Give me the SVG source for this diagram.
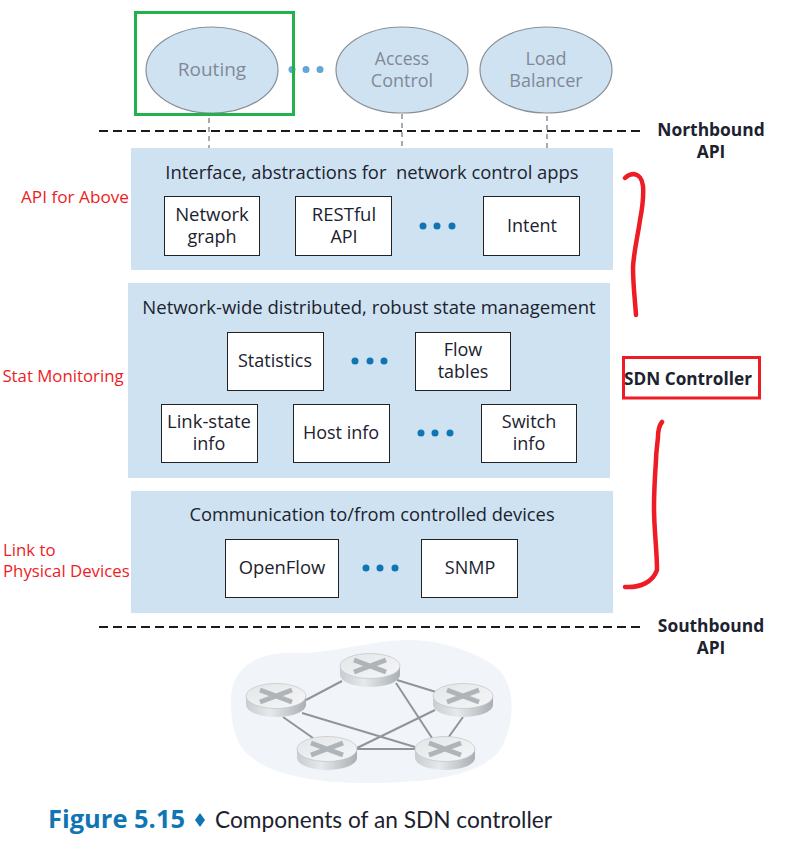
<svg xmlns="http://www.w3.org/2000/svg" width="800" height="850" viewBox="0 0 800 850">
<style>
text{font-family:"Open Sans","Noto Sans","Liberation Sans",sans-serif;fill:#1c2230;font-size:18px;text-anchor:middle}
.panel{fill:#cfe2f1}
.box{fill:#fff;stroke:#222;stroke-width:1}
.app{fill:#cfe2f1;stroke:#8a8f96;stroke-width:1.2}
.apptxt{fill:#7f8a96}
.red{fill:#ee1c25;font-size:16.800px}
.sw{fill:none;stroke:#ee1c25;stroke-width:4.500;stroke-linecap:round;stroke-linejoin:round}
.dash{stroke:#1a1a1a;stroke-width:2;stroke-dasharray:9 5;fill:none}
.vd{stroke:#8a8f96;stroke-width:1.500;stroke-dasharray:5 4;fill:none}
.dot{fill:#0f76b3}
.ldot{fill:#62a8d3}
.link{stroke:#8f9599;stroke-width:2;fill:none}
.bold{font-weight:700;font-size:17.400px}
</style>
<defs>
<linearGradient id="rg" x1="0" x2="1" y1="0" y2="0"><stop offset="0" stop-color="#c9cdd0"/><stop offset=".4" stop-color="#e6e9eb"/><stop offset="1" stop-color="#a9afb3"/></linearGradient>
<linearGradient id="rt" x1="0" x2="1" y1="0" y2="1"><stop offset="0" stop-color="#e3e6e8"/><stop offset="1" stop-color="#f5f6f7"/></linearGradient>
<g id="router">
<path d="M-30-3V6A30 12 0 0 0 30 6V-3Z" fill="url(#rg)"/>
<ellipse cx="0" cy="-3" rx="30" ry="12.500" fill="url(#rt)" stroke="#c0c4c7" stroke-width=".7"/>
<path d="M-16-9 16 3M16-9-16 3" stroke="#aeb4b8" stroke-width="5" fill="none"/>
</g>
</defs>
<rect width="800" height="850" fill="#fff"/>

<g id="cloud"><path d="M231 700C231 665 262 652 290 653C330 655 370 640 410 640C445 640 482 655 497 668C515 685 515 715 505 740C495 772 440 783 370 783C300 783 255 770 240 745C232 730 231 715 231 700Z" fill="#f1f5f9"/></g>

<g id="connectors">
<path class="dash" d="M99 131H640M99 627H640"/>
<path class="vd" d="M209 118V148M402 114V148M547 116V148"/>
<path class="link" d="M306 700 342 681M397 680 436 692M396 683 432 738M302 713 415 747M283 717 313 738M357 748 435 710M357 749H415M463 717 448 738"/>
</g>

<g id="app-routing"><ellipse class="app" cx="212" cy="70" rx="66" ry="43"/><text class="apptxt" x="212" y="76" style="font-size:19px">Routing</text></g>
<g id="app-dots"><circle class="ldot" cx="292" cy="69.500" r="3.500"/><circle class="ldot" cx="306" cy="69.500" r="3.500"/><circle class="ldot" cx="320" cy="69.500" r="3.500"/></g>
<g id="app-access"><ellipse class="app" cx="402" cy="70" rx="66" ry="43"/><text class="apptxt" x="402" y="65" style="font-size:17.500px">Access</text><text class="apptxt" x="402" y="87">Control</text></g>
<g id="app-load"><ellipse class="app" cx="546" cy="70" rx="66" ry="43"/><text class="apptxt" x="546" y="65">Load</text><text class="apptxt" x="546" y="87">Balancer</text></g>
<g id="routing-highlight"><rect x="135.500" y="12.500" width="158" height="102" fill="none" stroke="#22b14c" stroke-width="3"/></g>

<g id="northbound"><text class="bold" x="711" y="136">Northbound</text><text class="bold" x="711" y="158">API</text></g>

<g id="layer-interface"><rect class="panel" x="131" y="148" width="482" height="122"/><text x="372" y="179" style="font-size:18.400px">Interface, abstractions for &#160;network control apps</text></g>
<g id="n-network-graph"><rect class="box" x="164.500" y="196.500" width="95" height="59"/><text x="212" y="221" style="font-size:18.500px">Network</text><text x="212" y="243">graph</text></g>
<g id="n-restful"><rect class="box" x="295.500" y="196.500" width="96" height="59"/><text x="344" y="221" style="font-size:18.500px">RESTful</text><text x="344" y="243">API</text></g>
<g id="dots-1"><circle class="dot" cx="423" cy="226" r="3.500"/><circle class="dot" cx="437" cy="226" r="3.500"/><circle class="dot" cx="452" cy="226" r="3.500"/></g>
<g id="n-intent"><rect class="box" x="483.500" y="196.500" width="96" height="59"/><text x="532" y="232">Intent</text></g>

<g id="layer-state"><rect class="panel" x="128" y="283" width="482" height="195"/><text x="369" y="314" style="font-size:18.500px">Network-wide distributed, robust state management</text></g>
<g id="n-statistics"><rect class="box" x="227.500" y="332.500" width="96" height="58"/><text x="275" y="367">Statistics</text></g>
<g id="dots-2"><circle class="dot" cx="355" cy="361" r="3.500"/><circle class="dot" cx="370" cy="361" r="3.500"/><circle class="dot" cx="384" cy="361" r="3.500"/></g>
<g id="n-flow"><rect class="box" x="415.500" y="332.500" width="95" height="58"/><text x="463" y="356">Flow</text><text x="463" y="378">tables</text></g>
<g id="n-linkstate"><rect class="box" x="161.500" y="404.500" width="96" height="58"/><text x="209" y="428" style="font-size:18.500px">Link-state</text><text x="209" y="450">info</text></g>
<g id="n-host"><rect class="box" x="293.500" y="404.500" width="96" height="58"/><text x="341" y="439">Host info</text></g>
<g id="dots-3"><circle class="dot" cx="421" cy="433" r="3.500"/><circle class="dot" cx="435" cy="433" r="3.500"/><circle class="dot" cx="450" cy="433" r="3.500"/></g>
<g id="n-switch"><rect class="box" x="481.500" y="404.500" width="95" height="58"/><text x="529" y="428">Switch</text><text x="529" y="450">info</text></g>

<g id="layer-comm"><rect class="panel" x="131" y="491" width="482" height="122"/><text x="372" y="521" style="font-size:18.300px">Communication to/from controlled devices</text></g>
<g id="n-openflow"><rect class="box" x="225.500" y="539.500" width="113" height="58"/><text x="282" y="574" style="font-size:18.400px">OpenFlow</text></g>
<g id="dots-4"><circle class="dot" cx="366" cy="568" r="3.500"/><circle class="dot" cx="380" cy="568" r="3.500"/><circle class="dot" cx="395" cy="568" r="3.500"/></g>
<g id="n-snmp"><rect class="box" x="421.500" y="539.500" width="96" height="58"/><text x="470" y="574">SNMP</text></g>

<g id="southbound"><text class="bold" x="711" y="632">Southbound</text><text class="bold" x="711" y="654">API</text></g>

<g id="annotations">
<text class="red" x="75" y="203" style="font-size:17.200px">API for Above</text>
<text class="red" x="63" y="382">Stat Monitoring</text>
<text class="red" x="3" y="556" style="text-anchor:start">Link to</text>
<text class="red" x="3" y="577" style="text-anchor:start">Physical Devices</text>
<path class="sw" d="M625 178C628 175 631 174 634 174C640 175 642 179 643 186C644 200 642 210 640 220C638 235 634 250 633 267C633 285 635 300 636 315"/>
<path class="sw" d="M662 422C658 427 658 432 658 437C657 448 656 452 656 460C655 475 654 490 654 507C654 530 657 550 657 570C653 582 640 588 625 587"/>
<rect x="623.500" y="357.500" width="136" height="40.500" fill="none" stroke="#ee1c25" stroke-width="3"/>
<text class="bold" x="688" y="385" style="font-size:17.200px">SDN Controller</text>
</g>

<g id="network">
<use href="#router" x="370" y="669"/>
<use href="#router" x="276" y="699"/>
<use href="#router" x="463" y="699"/>
<use href="#router" x="327" y="752"/>
<use href="#router" x="445" y="752"/>
</g>

<g id="caption">
<text x="48" y="828" style="text-anchor:start;font-size:25px;font-weight:700;fill:#0f76b3;font-family:'Open Sans',sans-serif" textLength="137" lengthAdjust="spacingAndGlyphs">Figure 5.15</text>
<path d="M200 813 205 820 200 827 195 820Z" fill="#0f76b3"/>
<text x="215" y="828" style="text-anchor:start;font-size:22.700px;font-family:'Lato','Open Sans',sans-serif">Components of an SDN controller</text>
</g>
</svg>
